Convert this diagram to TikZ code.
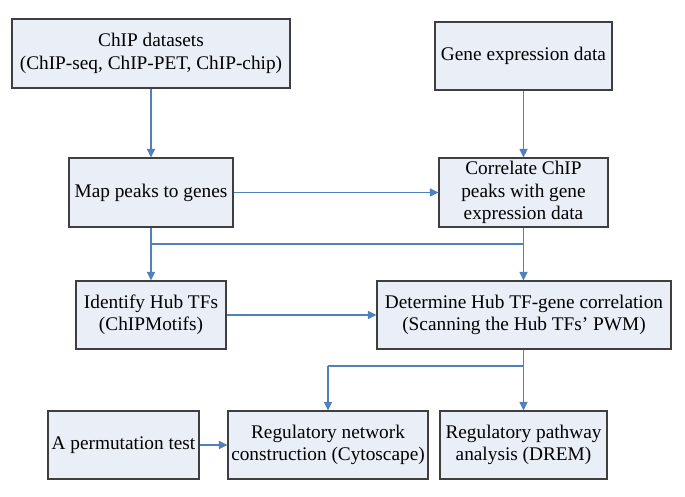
\documentclass[tikz,border=0pt]{standalone}
\usepackage{fontspec}
\setmainfont{Liberation Serif}
\usetikzlibrary{arrows.meta}
\definecolor{boxfill}{HTML}{E9EEF7}
\definecolor{boxline}{HTML}{3F3F3F}
\definecolor{arrowc}{HTML}{4F81BD}
\begin{document}
\begin{tikzpicture}[x=1pt,y=-1pt,
  box/.style={draw=boxline,fill=boxfill,line width=1.1pt,align=center,inner sep=0pt,
    font=\fontsize{19.3}{22.5}\selectfont},
  conn/.style={draw=arrowc,line width=1.1pt},
  arr/.style={conn,-{Triangle[length=8.5pt,width=8pt]}}]
\useasboundingbox (0,0) rectangle (685,497);
\node[box,minimum width=278pt,minimum height=69pt] (chip) at (151,53.5) {ChIP datasets\\(ChIP-seq, ChIP-PET, ChIP-chip)};
\node[box,minimum width=177pt,minimum height=68pt] (gene) at (523.5,56) {Gene expression data};
\node[box,minimum width=164pt,minimum height=69pt] (map) at (151,192.5) {Map peaks to genes};
\node[box,minimum width=169pt,minimum height=69pt] (corr) at (523.5,192.5) {Correlate ChIP\\peaks with gene\\expression data};
\node[box,minimum width=150pt,minimum height=68pt] (hub) at (151,315) {Identify Hub TFs\\(ChIPMotifs)};
\node[box,minimum width=294pt,minimum height=68pt] (det) at (524,315) {Determine Hub TF-gene correlation\\(Scanning the Hub TFs' PWM)};
\node[box,minimum width=151pt,minimum height=68pt] (perm) at (123.5,445) {A permutation test};
\node[box,minimum width=200pt,minimum height=68pt] (net) at (328,445) {Regulatory network\\construction (Cytoscape)};
\node[box,minimum width=167pt,minimum height=68pt] (path) at (523.5,445) {Regulatory pathway\\analysis (DREM)};
\coordinate (j1) at (151,244);
\coordinate (j2) at (523.5,244);
\coordinate (j3) at (523.5,366);
\coordinate (j4) at (328,366);
\draw[arr] (chip) -- (map);
\draw[arr] (gene) -- (corr);
\draw[arr] (map) -- (corr);
\draw[arr] (map) -- (hub);
\draw[conn] (j1) -- (j2);
\draw[arr] (corr) -- (det.north -| corr);
\draw[arr] (hub) -- (det);
\draw[arr] (det.south -| path) -- (path);
\draw[conn] (j3) -- (j4);
\draw[arr] (j4) -- (net);
\draw[arr] (perm) -- (net);
\end{tikzpicture}
\end{document}
